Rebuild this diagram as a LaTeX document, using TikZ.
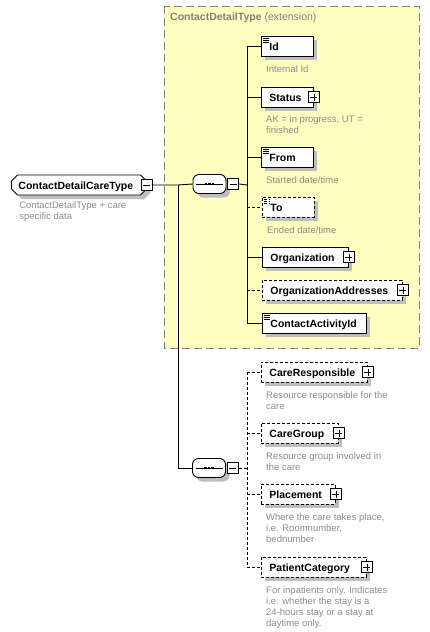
\documentclass[tikz,border=0pt]{standalone}
\usepackage{fontspec}
\setmainfont{Liberation Sans}
\usetikzlibrary{positioning, shapes.misc, shadows}
\definecolor{extfill}{RGB}{255, 255, 192}
\definecolor{extline}{RGB}{128, 128, 128}
\definecolor{doc}{RGB}{140, 140, 140}
\definecolor{shade}{RGB}{190, 190, 190}

\begin{document}
\begin{tikzpicture}[x=1pt, y=-1pt,
        shade/.style={drop shadow={shadow xshift=4pt, shadow yshift=-4pt, fill=shade, opacity=1}},
        elem/.style={rectangle, draw, line width=0.9pt, fill=white, anchor=west, minimum height=20pt, inner xsep=8pt, inner ysep=0pt, text width=#1, align=left, text height=9pt, text depth=1pt, font=\fontsize{10.5}{12}\selectfont\bfseries, shade},
        opt/.style={dash pattern=on 3pt off 2pt},
        simple/.style={path picture={\foreach \k in {2,4,6} \draw[line width=0.6pt] ([xshift=1.5pt, yshift=-\k*1pt]path picture bounding box.north west) -- ++(6pt,0);}},
        plusbox/.style={rectangle, draw, line width=0.9pt, fill=white, minimum size=11pt, inner sep=0pt,
            path picture={\draw[line width=0.8pt] ([xshift=2pt]path picture bounding box.west) -- ([xshift=-2pt]path picture bounding box.east) ([yshift=-2pt]path picture bounding box.north) -- ([yshift=2pt]path picture bounding box.south);}},
        minusbox/.style={rectangle, draw, line width=0.9pt, fill=white, minimum size=11pt, inner sep=0pt,
            path picture={\draw[line width=0.8pt] ([xshift=2pt]path picture bounding box.west) -- ([xshift=-2pt]path picture bounding box.east);}},
        seq/.style={rectangle, rounded corners=6pt, draw, line width=0.9pt, fill=white, minimum width=33pt, minimum height=19pt, inner sep=0pt, shade,
            path picture={\draw[line width=1pt, sharp corners] ([xshift=3pt]path picture bounding box.west) -- ([xshift=-3pt]path picture bounding box.east);
                \foreach \d in {-3.5,0,3.5} \fill[black, sharp corners] ([xshift=\d*1pt]path picture bounding box.center) +(-1.4pt,-1.4pt) rectangle +(1.4pt,1.4pt);}},
        desc/.style={font=\fontsize{9.5}{11}\selectfont, text=doc, align=left, inner sep=0pt},
        conn/.style={line width=0.9pt}
    ]
        \useasboundingbox (0,0) rectangle (430,632);

        % extension area
        \draw[fill=extfill, draw=extline, line width=0.9pt, dash pattern=on 8pt off 4pt] (164,6) rectangle (419,348);
        \node[anchor=west, inner sep=0pt, text=extline, font=\fontsize{10.5}{12}\selectfont] (ext) at (170,18) {\textbf{ContactDetailType} (extension)};

        % root
        \node[chamfered rectangle, chamfered rectangle xsep=3pt, chamfered rectangle ysep=3pt, draw, line width=0.9pt, fill=white, anchor=west, inner xsep=4pt, inner ysep=2pt, text width=121pt, align=left, text height=9pt, text depth=1pt, font=\fontsize{10.5}{12}\selectfont\bfseries, shade] (root) at (11,185) {ContactDetailCareType};
        \node[minusbox] (rootm) at (root.east) {};
        \node[desc, below right=9pt and 5pt of root.south west] (rootdoc) {ContactDetailType + care\\specific data};

        % sequences
        \node[seq] (seq1) at (209.5,184) {};
        \node[minusbox, right=1pt of seq1] (seq1m) {};
        \node[seq] (seq2) at (209,468) {};
        \node[minusbox, right=1pt of seq2] (seq2m) {};

        % extension children
        \node[elem=36pt, simple] (id) at (261,46) {Id};
        \node[desc, below right=9pt and 5pt of id.south west] (iddoc) {Internal Id};
        \node[elem=36pt] (status) at (261,97) {Status};
        \node[plusbox] (statusp) at (status.east) {};
        \node[desc, below right=8pt and 5pt of status.south west] (statusdoc) {AK = in progress, UT =\\finished};
        \node[elem=36pt, simple] (from) at (261,157) {From};
        \node[desc, below right=9pt and 5pt of from.south west] (fromdoc) {Started date/time};
        \node[elem=36pt, simple, opt] (to) at (262,207) {To};
        \node[desc, below right=9pt and 5pt of to.south west] (todoc) {Ended date/time};
        \node[elem=70pt] (org) at (262,257) {Organization};
        \node[plusbox] (orgp) at (org.east) {};
        \node[elem=124pt, opt] (orgadr) at (262,290) {OrganizationAddresses};
        \node[plusbox] (orgadrp) at (orgadr.east) {};
        \node[elem=88pt, simple] (cai) at (262,323) {ContactActivityId};

        % care children
        \node[elem=90pt, opt] (careresp) at (261,372) {CareResponsible};
        \node[plusbox] (carerespp) at (careresp.east) {};
        \node[desc, below right=9pt and 5pt of careresp.south west] (carerespdoc) {Resource responsible for the\\care};
        \node[elem=61pt, opt] (caregrp) at (261,433) {CareGroup};
        \node[plusbox] (caregrpp) at (caregrp.east) {};
        \node[desc, below right=9pt and 5pt of caregrp.south west] (caregrpdoc) {Resource group involved in\\the care};
        \node[elem=58pt, opt] (place) at (261,494) {Placement};
        \node[plusbox] (placep) at (place.east) {};
        \node[desc, below right=9pt and 5pt of place.south west] (placedoc) {Where the care takes place,\\i.e. Roomnumber,\\bednumber};
        \node[elem=89pt, opt] (patcat) at (261,567) {PatientCategory};
        \node[plusbox] (patcatp) at (patcat.east) {};
        \node[desc, below right=9pt and 5pt of patcat.south west] (patcatdoc) {For inpatients only. Indicates\\i.e. whether the stay is a\\24-hours stay or a stay at\\daytime only.};

        % connectors
        \coordinate (fork) at (178,185);
        \coordinate (spine1) at (247,185);
        \coordinate (spine2) at (247,468);
        \draw[conn] (rootm.east) -- (fork) -- (seq1.west);
        \draw[conn] (fork) |- (seq2.west);
        \draw[conn] (seq1m.east) -- (spine1);
        \draw[conn] (spine1 |- id.west) -- (spine1 |- cai.west);
        \foreach \n in {id, status, from, org, cai}
            \draw[conn] (spine1 |- \n.west) -- (\n.west);
        \foreach \n in {to, orgadr}
            \draw[conn, opt] (spine1 |- \n.west) -- (\n.west);
        \draw[conn, opt] (seq2m.east) -- (spine2);
        \draw[conn, opt] (spine2 |- careresp.west) -- (spine2 |- patcat.west);
        \foreach \n in {careresp, caregrp, place, patcat}
            \draw[conn, opt] (spine2 |- \n.west) -- (\n.west);
    \end{tikzpicture}
\end{document}
